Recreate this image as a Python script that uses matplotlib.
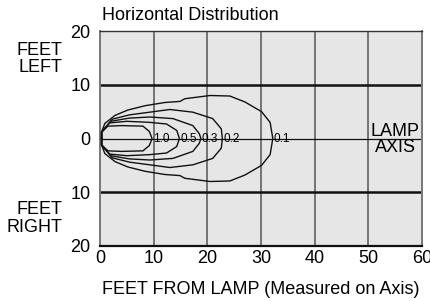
import matplotlib
matplotlib.use("Agg")
import matplotlib.pyplot as plt
import numpy as np

plt.rcParams["font.family"] = ["Liberation Sans", "DejaVu Sans"]

# --- Data ---
# iso-footcandle contours: distance along axis (ft) and upper half-width (ft)
levels = ["1.0", "0.5", "0.3", "0.2", "0.1"]
dist_10 = [0.3, 0.3, 1.5, 4.0, 8.0, 9.2, 9.7]
half_10 = [0.0, 1.2, 2.3, 2.4, 2.3, 1.3, 0.0]
dist_05 = [0.3, 0.3, 1.8, 5.0, 9.3, 12.4, 14.3, 14.8]
half_05 = [0.0, 1.2, 2.9, 3.2, 3.0, 2.7, 1.5, 0.0]
dist_03 = [0.3, 0.3, 2.0, 5.5, 9.3, 13.6, 17.3, 18.5, 18.8]
half_03 = [0.0, 1.2, 3.2, 3.8, 4.0, 3.7, 2.4, 0.9, 0.0]
dist_02 = [0.3, 0.3, 2.3, 5.5, 9.3, 13.0, 17.3, 21.0, 22.6, 22.8]
half_02 = [0.0, 1.2, 3.6, 4.4, 4.9, 5.4, 4.9, 3.7, 1.8, 0.0]
dist_01 = [0.3, 0.3, 0.9, 2.8, 5.2, 8.4, 12.1, 14.9, 15.8, 20.5, 24.2, 27.0, 30.1, 31.7, 32.2]
half_01 = [0.0, 1.2, 2.8, 4.3, 5.3, 6.1, 6.7, 6.9, 7.4, 8.0, 7.9, 6.8, 5.0, 3.0, 0.0]

x_ticks = [0, 10, 20, 30, 40, 50, 60]
y_ticks = [-20, -10, 0, 10, 20]
y_tick_labels = ["20", "10", "0", "10", "20"]

contours = [
    (dist_10, half_10),
    (dist_05, half_05),
    (dist_03, half_03),
    (dist_02, half_02),
    (dist_01, half_01),
]

FS = 13

fig = plt.figure(figsize=(4.31, 3.01), dpi=100)
ax = fig.add_axes([100 / 431, 1 - 246 / 301, 322 / 431, 215 / 301])
ax.set_facecolor("#e6e6e6")
ax.set_xlim(0, 60)
ax.set_ylim(-20, 20)

# grid
for xv in x_ticks[1:-1]:
    ax.axvline(xv, color="#555555", lw=1.1, zorder=1)
for yv in (-10, 10):
    ax.axhline(yv, color="#111111", lw=1.8, zorder=1)
ax.axhline(0, color="#111111", lw=0.9, zorder=2)

# contours (mirrored about the lamp axis)
for (d, h), lab in zip(contours, levels):
    d = np.array(d)
    h = np.array(h)
    xs = np.concatenate([d, d[::-1]])
    ys = np.concatenate([h, -h[::-1]])
    ax.plot(xs, ys, color="#111111", lw=1.0, zorder=3)
    ax.text(d[-1] + 0.2, 0, lab, fontsize=8.5, ha="left", va="center", zorder=4)

ax.text(55, 1.3, "LAMP", fontsize=FS, ha="center", va="center")
ax.text(55, -1.7, "AXIS", fontsize=FS, ha="center", va="center")

# spines
for side in ("left", "right"):
    ax.spines[side].set_color("#777777")
    ax.spines[side].set_linewidth(1.4)
ax.spines["top"].set_color("#333333")
ax.spines["top"].set_linewidth(1.0)
ax.spines["bottom"].set_color("#111111")
ax.spines["bottom"].set_linewidth(1.6)

ax.set_xticks(x_ticks)
ax.set_xticklabels([str(v) for v in x_ticks])
ax.set_yticks(y_ticks)
ax.set_yticklabels(y_tick_labels)
ax.tick_params(axis="both", length=0, labelsize=FS)
ax.tick_params(axis="y", pad=7)
ax.tick_params(axis="x", pad=3)

ax.set_xlabel("FEET FROM LAMP (Measured on Axis)", fontsize=FS, labelpad=10)

ax.text(16.8, 22.8, "Horizontal Distribution", fontsize=FS, ha="center",
        va="center", clip_on=False)
ax.text(-7.1, 14.7, "FEET\nLEFT", fontsize=FS, ha="right", va="center",
        linespacing=1.0, clip_on=False)
ax.text(-7.1, -14.9, "FEET\nRIGHT", fontsize=FS, ha="right", va="center",
        linespacing=1.05, clip_on=False)

fig.savefig("out.png", dpi=100)
